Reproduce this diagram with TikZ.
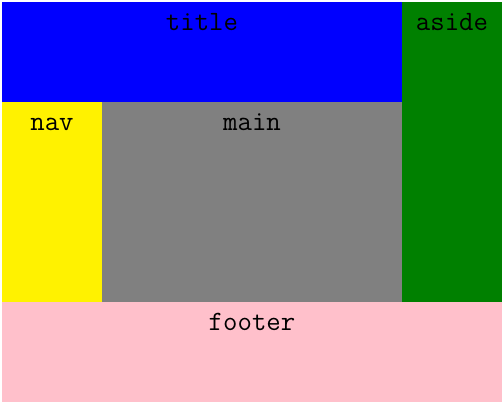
\documentclass[tikz,border=0pt]{standalone}
\usetikzlibrary{positioning}
\definecolor{areagreen}{RGB}{0,128,0}
\definecolor{areagray}{RGB}{128,128,128}
\definecolor{areapink}{RGB}{255,192,203}

\begin{document}
\begin{tikzpicture}[
  x=1pt, y=-1pt,
  area/.style={anchor=north west, inner sep=0pt, outer sep=0pt},
  tag/.style={anchor=base, inner sep=0pt, font=\fontsize{28}{30}\selectfont\ttfamily}
]
\useasboundingbox (0,0) rectangle (503,405);
% page regions
\node[area, fill=blue, minimum width=400pt, minimum height=100pt] (title) at (2,2) {};
\node[area, fill=areagreen, minimum width=100pt, minimum height=300pt] (aside) at (402,2) {};
\node[area, fill=yellow, minimum width=100pt, minimum height=200pt] (nav) at (2,102) {};
\node[area, fill=areagray, minimum width=300pt, minimum height=200pt] (main) at (102,102) {};
\node[area, fill=areapink, minimum width=500pt, minimum height=100pt] (footer) at (2,302) {};
% labels
\node[tag] (titletext) at ([yshift=-28pt]title.north) {title};
\node[tag] (asidetext) at ([yshift=-28pt]aside.north) {aside};
\node[tag] (navtext) at ([yshift=-28pt]nav.north) {nav};
\node[tag] (maintext) at ([yshift=-28pt]main.north) {main};
\node[tag] (footertext) at ([yshift=-28pt]footer.north) {footer};
\end{tikzpicture}
\end{document}
